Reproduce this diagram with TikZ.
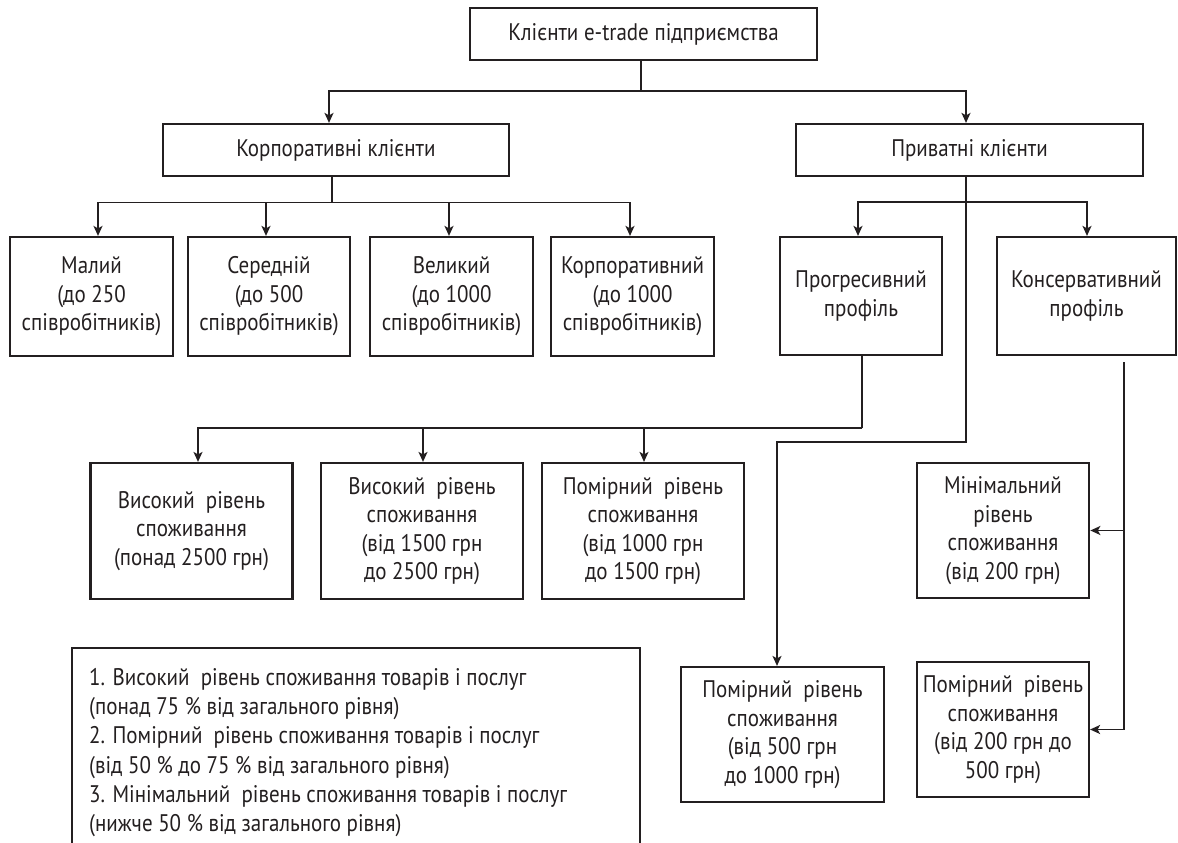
\documentclass[tikz,border=0pt]{standalone}
\usepackage{fontspec}
\setmainfont{PT Sans}[FakeStretch=0.875]
\usetikzlibrary{arrows.meta}
\definecolor{ink}{RGB}{35,31,32}
\begin{document}
\begin{tikzpicture}[x=1pt,y=-1pt,
  box/.style={draw=ink, line width=2.2pt, align=center, inner sep=0pt, text=ink,
    font=\fontsize{24}{28.5}\selectfont},
  conn/.style={draw=ink, line width=1.6pt},
  arr/.style={conn, -{Stealth[length=10pt,width=9pt,inset=2.5pt]}}]
\useasboundingbox (0,0) rectangle (1178,843);

% level 0
\node[box, minimum width=347pt, minimum height=52pt] (top) at (643.5,34) {Клієнти e-trade підприємства};
% level 1
\node[box, minimum width=346pt, minimum height=52pt] (korp) at (336,150) {Корпоративні клієнти};
\node[box, minimum width=347pt, minimum height=52pt] (pryv) at (969.5,150) {Приватні клієнти};
% level 2 corporate
\node[box, minimum width=163pt, minimum height=119pt] (m1) at (91.5,296.5) {Малий\\(до 250\\співробітників)};
\node[box, minimum width=162pt, minimum height=119pt] (m2) at (269,296.5) {Середній\\(до 500\\співробітників)};
\node[box, minimum width=163pt, minimum height=119pt] (m3) at (451.5,296.5) {Великий\\(до 1000\\співробітників)};
\node[box, minimum width=163pt, minimum height=119pt] (m4) at (632.5,296.5) {Корпоративний\\(до 1000\\співробітників)};
% level 2 private
\node[box, minimum width=162pt, minimum height=118pt] (prog) at (861,296) {Прогресивний\\профіль};
\node[box, minimum width=179pt, minimum height=118pt] (kons) at (1086.5,296) {Консервативний\\профіль};
% level 3
\node[box, minimum width=202pt, minimum height=136pt] (a) at (191.5,531) {Високий\ \ рівень\\споживання\\(понад 2500 грн)};
\node[box, minimum width=202pt, minimum height=136pt] (b) at (422,531) {Високий\ \ рівень\\споживання\\(від 1500 грн\\до 2500 грн)};
\node[box, minimum width=202pt, minimum height=136pt] (c) at (643,531) {Помірний\ \ рівень\\споживання\\(від 1000 грн\\до 1500 грн)};
\node[box, minimum width=172.5pt, minimum height=135pt] (min) at (1003,530.5) {Мінімальний\\рівень\\споживання\\(від 200 грн)};
\node[box, minimum width=172pt, minimum height=135pt] (pom2) at (1003,729.5) {Помірний\ \ рівень\\споживання\\(від 200 грн до\\500 грн)};
\node[box, minimum width=203pt, minimum height=135pt] (pom1) at (782.5,734.5) {Помірний\ \ рівень\\споживання\\(від 500 грн\\до 1000 грн)};

% legend
\draw[draw=ink, line width=2.2pt] (72,843) -- (72,648) -- (640,648) -- (640,843);
\node[anchor=north west, align=left, inner sep=0pt, text=ink,
  font=\fontsize{24}{29.3}\selectfont] (legend) at (89,668)
  {1. Високий\ \ рівень споживання товарів і послуг\\
   (понад 75 \% від загального рівня)\\
   2. Помірний\ \ рівень споживання товарів і послуг\\
   (від 50 \% до 75 \% від загального рівня)\\
   3. Мінімальний\ \ рівень споживання товарів і послуг\\
   (нижче 50 \% від загального рівня)};

% connectors: top
\coordinate (t1) at (641,91);
\draw[conn] (top.south -| t1) -- (t1);
\draw[arr] (t1) -| ([xshift=-7pt]korp.north);
\draw[arr] (t1) -| ([xshift=-3.5pt]pryv.north);

% corporate
\coordinate (k1) at (332,202.5);
\draw[conn] (korp.south -| k1) -- (k1);
\draw[arr] (k1) -| ([xshift=6.5pt]m1.north);
\draw[arr] (k1) -| ([xshift=-3pt]m2.north);
\draw[arr] (k1) -| ([xshift=-2.5pt]m3.north);
\draw[arr] (k1) -| ([xshift=-2.5pt]m4.north);

% private
\coordinate (p1) at (966,202);
\coordinate (p2) at (966,442);
\draw[conn] (pryv.south -| p1) -- (p1);
\draw[arr] (p1) -| ([xshift=-3pt]prog.north);
\draw[arr] (p1) -| ([xshift=0.5pt]kons.north);
\draw[arr] (p1) -- (p2) -| ([xshift=-5.5pt]pom1.north);

% progressive
\coordinate (g1) at (862,428);
\draw[conn] (prog.south -| g1) -- (g1);
\draw[arr] (g1) -| ([xshift=6.5pt]a.north);
\draw[arr] (g1) -| ([xshift=1pt]b.north);
\draw[arr] (g1) -| ([xshift=1pt]c.north);

% conservative
\coordinate (c1) at (1124,362);
\coordinate (c2) at (1124,729.5);
\draw[conn] (c1) -- (c2);
\draw[arr] (c1 |- min.east) -- (min.east);
\draw[arr] (c2) -- (pom2.east);
\end{tikzpicture}
\end{document}
